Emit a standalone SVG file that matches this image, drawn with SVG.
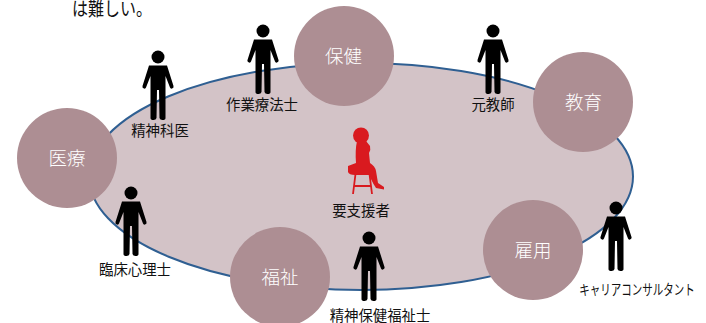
<svg xmlns="http://www.w3.org/2000/svg" width="706" height="323" viewBox="0 0 706 323">
<style>
text{font-family:"Noto Sans CJK JP","Noto Sans",sans-serif}
.c{fill:#ad8e93}
.n{font-size:18.500px;fill:#fff;text-anchor:middle;font-weight:300}
.l{font-size:14.400px;fill:#111;text-anchor:middle}
.r{fill:#d91a1f}
.s{stroke:#d91a1f;stroke-width:1.800;fill:none}
</style>
<defs>
<g id="p">
<circle cx="0" cy="0" r="6.500"/>
<path d="M-9 8.500H9L15.500 29Q16 31 14 31.500Q12.500 32 12 30.500L7.500 19V61Q7.500 63 4.500 63Q2 63 1.500 61L1 33H-1L-1.500 61Q-2 63-4.500 63Q-7.500 63-7.500 61V19L-12 30.500Q-12.500 32-14 31.500Q-16 31-15.500 29Z" fill="#000"/>
</g>
</defs>
<rect width="706" height="323" fill="#fff"/>
<text transform="translate(72 15.500) scale(.82 1)" font-size="19.500" fill="#111">は難しい。</text>
<g id="connectors">
<ellipse cx="361" cy="176.500" rx="272" ry="113.500" fill="#d3c3c7" stroke="#2f5f92" stroke-width="2"/>
</g>
<g id="iryo"><circle class="c" cx="67" cy="158" r="50"/><text class="n" x="67" y="165">医療</text></g>
<g id="hoken"><circle class="c" cx="344" cy="56" r="50"/><text class="n" x="343.500" y="63">保健</text></g>
<g id="kyoiku"><circle class="c" cx="583" cy="102" r="50"/><text class="n" x="583.500" y="109">教育</text></g>
<g id="fukushi"><circle class="c" cx="280" cy="277" r="50"/><text class="n" x="280" y="284">福祉</text></g>
<g id="koyo"><circle class="c" cx="533" cy="250" r="50"/><text class="n" x="533" y="257">雇用</text></g>
<g id="seishinkai"><use href="#p" x="158" y="57"/><text class="l" x="160" y="136">精神科医</text></g>
<g id="sagyo"><use href="#p" x="263" y="31"/><text class="l" x="262" y="110">作業療法士</text></g>
<g id="motokyoshi"><use href="#p" x="493" y="31"/><text class="l" x="493" y="110">元教師</text></g>
<g id="rinsho"><use href="#p" x="131" y="193"/><text class="l" x="135" y="275">臨床心理士</text></g>
<g id="seishinhoken"><use href="#p" x="369" y="238"/><text class="l" x="380" y="321">精神保健福祉士</text></g>
<g id="career"><use href="#p" x="616" y="208"/><text class="l" transform="translate(637 295) scale(.73 1)">キャリアコンサルタント</text></g>
<g id="yoshiensha">
<circle class="r" cx="361" cy="135.500" r="8"/>
<path class="r" d="M357 141H366L370 146Q371 150 369 153L370 163Q375 166 376 171L378 183L384 187V189.500L376 188L373.500 184L369 175H355Q349 175 348 172V166L356 163Q355 150 357 141Z"/>
<path class="s" d="M355.500 174L353 194M369.500 174L372 194M354.500 186H370.500"/>
<text class="l" x="361" y="216">要支援者</text>
</g>
</svg>
